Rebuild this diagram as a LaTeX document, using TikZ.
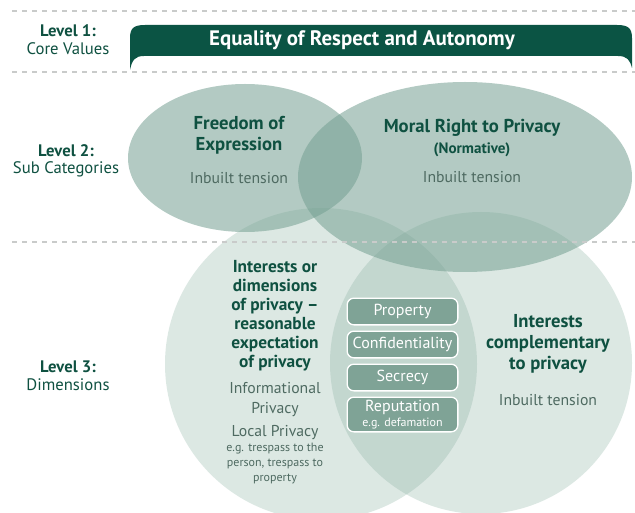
\documentclass[tikz,border=0pt]{standalone}
\usepackage{fontspec}
\setmainfont{PT Sans}
\definecolor{bannergreen}{HTML}{0B5444}
\definecolor{titlegreen}{HTML}{0F5141}
\definecolor{bodygray}{HTML}{4E6A61}
\definecolor{dashgray}{HTML}{C9CBCA}
\definecolor{lvthree}{RGB}{129,170,155}
\definecolor{lvtwo}{RGB}{117,160,146}
\definecolor{boxfill}{HTML}{7FA396}
\begin{document}
\begin{tikzpicture}[x=0.75pt,y=-0.75pt,
  levelbold/.style={font=\bfseries\fontsize{12.5}{13.5}\selectfont, text=titlegreen, align=center},
  levelname/.style={font=\fontsize{12.5}{13.5}\selectfont, text=titlegreen, align=center},
  dashline/.style={draw=dashgray, line width=1.1pt, dash pattern=on 4pt off 3.5pt},
  dimfill/.style={fill=lvthree, fill opacity=0.27},
  catfill/.style={fill=lvtwo, fill opacity=0.55},
  heading/.style={font=\bfseries\fontsize{14}{15.75}\selectfont, text=titlegreen, align=center},
  body/.style={font=\fontsize{11.8}{15}\selectfont, text=bodygray, align=center},
  smallbody/.style={font=\fontsize{9}{11.25}\selectfont, text=bodygray, align=center},
  tag/.style={draw=white, line width=1pt, rounded corners=5pt, fill=boxfill, text=white,
    minimum width=83pt, minimum height=20pt, inner sep=1pt, align=center,
    font=\fontsize{12}{12}\selectfont}
]
\useasboundingbox (0,0) rectangle (635,513);
\fill[white] (0,0) rectangle (635,513);

% level 3 dimensions
\fill[dimfill] (321,364) circle [radius=156];
\fill[dimfill] (481,363) circle [radius=151];

% level 2 sub categories
\fill[catfill] (245,158) ellipse [x radius=117, y radius=74];
\fill[catfill] (465,177) ellipse [x radius=167, y radius=95];

% level separators
\draw[dashline] (12,11) -- (635,11);
\draw[dashline] (12,72) -- (635,72);
\draw[dashline] (12,242) -- (635,242);

% level 1 banner
\fill[bannergreen] (130,70) -- (130,38) .. controls (130,28) and (134,25) .. (145,25)
  -- (617,25) .. controls (628,25) and (632,28) .. (632,38) -- (632,68)
  .. controls (630,60) and (627,56) .. (618,56) -- (144,56)
  .. controls (135,56) and (132,60) .. (130,70) -- cycle;
\node[font=\bfseries\fontsize{15.7}{17}\selectfont, text=white] (core) at (362,40) {Equality of Respect and Autonomy};

% level labels
\node[levelbold] (l1) at (68,31) {Level 1:};
\node[levelname] (l1n) at (68,49) {Core Values};
\node[levelbold] (l2) at (66,151) {Level 2:};
\node[levelname] (l2n) at (66,169) {Sub Categories};
\node[levelbold] (l3) at (68,367) {Level 3:};
\node[levelname] (l3n) at (68,385) {Dimensions};

% sub category texts
\node[heading] (free) at (239,135) {Freedom of\\Expression};
\node[body] (freet) at (239,178) {Inbuilt tension};
\node[heading] (moral) at (472,128) {Moral Right to Privacy};
\node[font=\bfseries\fontsize{11.3}{12}\selectfont, text=titlegreen] (norm) at (472,150) {(Normative)};
\node[body] (moralt) at (472,177) {Inbuilt tension};

% dimension texts
\node[heading, font=\bfseries\fontsize{13}{14.25}\selectfont] (interests) at (275,316) {Interests or\\dimensions\\of privacy --\\reasonable\\expectation\\of privacy};
\node[body] (info) at (275,400) {Informational\\Privacy};
\node[body] (local) at (275,433) {Local Privacy};
\node[smallbody] (localeg) at (275,464) {e.g. trespass to the\\person, trespass to\\property};
\node[heading] (compl) at (548,344) {Interests\\complementary\\to privacy};
\node[body] (complt) at (548,400) {Inbuilt tension};

% shared interests
\node[tag] (prop) at (402.5,311.5) {Property};
\node[tag] (conf) at (402.5,344.5) {Confidentiality};
\node[tag] (secr) at (402.5,377.5) {Secrecy};
\node[tag, minimum height=26pt] (repu) at (402.5,414.5) {Reputation\\[-1pt]{\fontsize{9}{9}\selectfont e.g. defamation}};
\end{tikzpicture}
\end{document}
